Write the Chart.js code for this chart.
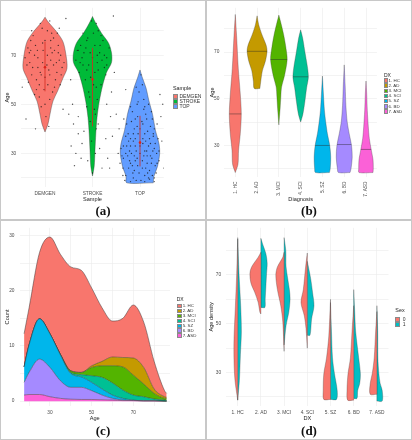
<!DOCTYPE html>
<html>
<head>
<meta charset="utf-8">
<title>Age distributions by sample, diagnosis and sex</title>
<script src="https://cdn.jsdelivr.net/npm/chart.js@4.4.1/dist/chart.umd.min.js"></script>
<style>
  html, body { margin: 0; padding: 0; background: #fff; }
  #figure { position: relative; width: 412px; height: 440px; overflow: hidden; font-family: "Liberation Sans", Arial, sans-serif; }
  .panel { position: absolute; width: 206px; height: 220px; box-shadow: inset 0 0 0 1px #c8c8c8; }
  .panel canvas { position: absolute; left: 0; top: 0; }
  .tag { position: absolute; left: 0; top: 204px; width: 206px; text-align: center; font: bold 13px/14px "Liberation Serif", "Times New Roman", serif; color: #111; }
  .legend { position: absolute; left: 0; top: 0; color: #333; white-space: nowrap; }
  .legend div { position: absolute; }
  .legend .key { box-sizing: border-box; border: 0.5px solid #8a8a8a; }
</style>
</head>
<body>
<div id="figure">
  <div class="panel" id="panelA" style="left:0;top:0"><canvas id="chartA" width="206" height="206"></canvas><div class="tag">(a)</div></div>
  <div class="panel" id="panelB" style="left:206px;top:0"><canvas id="chartB" width="206" height="206"></canvas><div class="tag">(b)</div></div>
  <div class="panel" id="panelC" style="left:0;top:220px"><canvas id="chartC" width="206" height="206"></canvas><div class="tag">(c)</div></div>
  <div class="panel" id="panelD" style="left:206px;top:220px"><canvas id="chartD" width="206" height="206"></canvas><div class="tag">(d)</div></div>
</div>
<script>
// ---------- (a) age by sample ----------
const sampleNames = ['DEMGEN', 'STROKE', 'TOP'];
const sampleColors = ['#F8766D', '#00BA38', '#619CFF'];
const demgenAges = [38.7, 42, 46, 51.3, 55.3, 60.7, 64.7, 70, 75.5, 79.5, 83.5, 85.5];
const demgenDensity = [0, 3, 5, 8, 12.5, 18, 22, 21, 18, 11.7, 3.3, 0];
const strokeAges = [20.8, 24.7, 31.3, 38, 44.5, 51, 57.5, 63, 67, 71, 75, 79, 83, 85.8];
const strokeDensity = [0, 1.7, 2.5, 3.3, 4.5, 6.7, 10, 14, 19, 19, 16, 9, 3.3, 0];
const topAges = [18, 20.7, 24.7, 30, 34, 39.3, 46, 51.3, 56.7, 60.7, 64];
const topDensity = [13.3, 14, 17.5, 19.7, 19, 15.5, 12.5, 9, 6, 2.5, 0];
const sampleMean = [65.1, 60.2, 34.4];
const sampleLow = [55.3, 41, 24.7];
const sampleHigh = [75.5, 73, 45.3];
// individual subjects: [offset from group centre, age]
const demgenJitter = [[-0.30,72],[0.12,68],[-0.05,75],[0.25,63],[-0.18,60],[0.33,70],[-0.38,66],[0.05,80],[-0.10,83],[0.18,77],
  [-0.25,78],[0.28,74],[-0.33,71],[0.08,64],[-0.12,58],[0.20,57],[-0.22,54],[0.10,52],[-0.08,49],[0.02,45],
  [-0.40,44],[0.38,48],[0.30,81],[-0.15,69],[0.15,71],[-0.28,62],[0.36,65],[0.00,61],[-0.05,67],[0.22,60],
  [-0.35,59],[0.12,73],[-0.20,74],[0.26,79],[-0.02,56],[0.05,70],[-0.42,69],[0.40,67],[0.44,85],[-0.20,40],
  [0.08,41],[-0.15,65],[0.18,66],[-0.30,76],[0.32,58],
  [0.10,62],[-0.10,63],[0.30,68],[-0.32,67],[0.20,72],[-0.22,70],[0.00,76],[0.14,79],[-0.06,81],[0.24,67],
  [-0.16,72],[0.06,58],[-0.08,62],[0.34,62],[-0.26,65],[0.16,55],[-0.12,53],[0.04,66],[-0.36,73],[0.12,76],
  [-0.04,72],[0.28,71],[-0.18,56],[0.00,50],[0.50,46],[-0.48,57],[0.10,84],[-0.28,80]];
const strokeJitter = [[-0.30,72],[0.25,70],[-0.10,77],[0.12,80],[-0.20,66],[0.30,66],[0.05,63],[-0.15,60],[0.18,58],[-0.08,55],
  [0.10,52],[-0.12,49],[0.06,46],[-0.05,43],[0.08,40],[-0.30,38],[0.28,36],[-0.22,34],[0.15,32],[-0.35,30],
  [0.32,28],[-0.10,27],[0.20,24],[-0.38,25],[0.00,69],[-0.35,68],[0.35,73],[0.22,76],[-0.25,74],[0.08,83],
  [-0.02,84],[0.28,62],[-0.28,63],[0.40,55],[-0.42,50],[0.38,45],[-0.40,42],[0.15,71],[-0.05,71],[0.10,67],
  [-0.12,64],[0.02,58],[0.44,86],[-0.30,45],[0.30,50],
  [0.05,74],[-0.18,71],[0.20,68],[-0.08,66],[0.12,64],[-0.22,69],[0.30,69],[-0.32,72],[0.16,74],[-0.12,76],
  [0.02,79],[-0.04,61],[0.08,57],[-0.06,53],[0.04,48],[-0.02,35],[0.06,30],[-0.45,33],[0.42,37],[0.46,63],
  [-0.46,60],[0.12,42],[-0.18,39],[0.25,65],[-0.26,67],[0.10,70],[-0.14,73],[0.00,22],[-0.24,28],[0.36,24],
  [0.18,78],[-0.20,79]];
const topJitter = [[-0.30,30],[0.25,28],[-0.10,33],[0.12,35],[-0.20,26],[0.30,32],[0.05,24],[-0.15,22],[0.18,20],[-0.08,19],
  [0.10,38],[-0.12,40],[0.06,42],[-0.05,45],[0.08,48],[-0.20,36],[0.28,37],[-0.22,31],[0.15,29],[-0.35,28],
  [0.32,25],[-0.10,27],[0.20,23],[-0.30,21],[0.00,30],[-0.35,33],[0.35,30],[0.22,34],[-0.25,38],[0.08,52],
  [-0.02,55],[0.14,44],[-0.16,47],[0.30,40],[-0.28,42],[0.38,36],[-0.40,32],[0.15,26],[-0.05,25],[0.10,31],
  [-0.12,29],[0.02,19],[0.05,58],[-0.06,50],[0.26,44],[-0.24,24],[0.34,22],[-0.32,19],[0.20,19.5],[-0.10,36],
  [0.00,40],[0.22,41],[-0.18,43],[0.12,46],[0.40,27],[-0.42,26],[0.44,45],[-0.44,40],[0.42,54],[-0.30,56],
  [0.10,21],[-0.20,33],[0.27,31],[-0.06,28],[0.18,33],[-0.14,35],[0.06,36],[-0.26,29],[0.36,26],[-0.36,24],
  [0.00,33],[0.05,27],[-0.08,31],[0.14,31],[-0.22,27],[0.24,26],[-0.28,33],[0.32,34],[-0.18,30],[0.08,29],
  [-0.02,22],[0.12,24],[-0.14,20],[0.26,21],[-0.36,21],[0.30,20],[-0.04,38],[0.16,39],[-0.14,38],[0.20,36],
  [-0.30,37],[0.04,43],[-0.10,44],[0.10,49],[-0.04,51],[0.02,62],[-0.08,57],[0.18,50],[-0.20,49],[0.24,47],
  [-0.34,44],[0.36,42],[0.06,34],[-0.16,25],[0.22,29],[-0.38,29],[0.40,31],[-0.24,35],[0.28,38],[-0.06,41],
  [0.10,18.5],[-0.20,18.5],[0.30,18.5],[-0.12,23],[0.16,22],[0.46,35],[-0.46,30],[0.48,50],[-0.50,46],[0.50,24]];

// ---------- (b) age by diagnosis ----------
const dxNames = ['1. HC', '2. AD', '3. MCI', '4. SCI', '5. SZ', '6. BD', '7. ASD'];
const dxColors = ['#F8766D', '#C49A00', '#53B400', '#00C094', '#00B6EB', '#A58AFF', '#FB61D7'];
const hcAges = [18.4, 22, 28, 35, 43.5, 52, 63, 77, 86.1];
const hcDensity = [0, 0.27, 0.33, 0.5, 0.6, 0.5, 0.3, 0.13, 0];
const adAges = [54.4, 57.5, 62, 66, 70.3, 73, 77.3, 81.6, 85.5];
const adDensity = [0.28, 0.37, 0.53, 0.83, 1.0, 0.9, 0.5, 0.17, 0];
const mciAges = [38.8, 46, 51, 55, 60, 66.7, 72, 77, 82, 85.8];
const mciDensity = [0, 0.13, 0.2, 0.27, 0.57, 0.83, 0.7, 0.5, 0.23, 0];
const sciAges = [40, 43.5, 49, 54.7, 59, 63, 70, 76, 79.5];
const sciDensity = [0, 0.23, 0.43, 0.6, 0.77, 0.7, 0.43, 0.2, 0];
const szAges = [18.4, 20, 25, 30, 35, 40, 45, 52, 59.7];
const szDensity = [0.7, 0.78, 0.83, 0.73, 0.5, 0.33, 0.2, 0.1, 0];
const bdAges = [18.4, 20, 25, 30, 35, 40, 47, 55, 64.5];
const bdDensity = [0.58, 0.68, 0.8, 0.73, 0.5, 0.3, 0.17, 0.1, 0];
const asdAges = [18.4, 20, 24, 28, 33, 38, 45, 52, 57.6];
const asdDensity = [0.7, 0.73, 0.7, 0.53, 0.33, 0.23, 0.13, 0.07, 0];
const dxMedian = [43.5, 70.3, 66.8, 59.4, 30, 30.4, 28.3];

// ---------- (c) stacked count density by age ----------
const countAges = [17.6, 20, 25, 30, 35, 40, 45, 50, 55, 60, 65, 70, 75, 80, 85, 86];
const countHC  = [6.0, 6.7, 12.0, 17.5, 18.1, 18.8, 18.5, 14.1, 9.7, 6.5, 7.1, 9.6, 8.2, 5.0, 1.1, 0.7];
const countAD  = [0, 0, 0, 0, 0, 0, 0, 0.3, 0.8, 1.6, 1.7, 3.1, 3.0, 0.8, 0.3, 0.25];
const countMCI = [0, 0, 0, 0, 0.05, 0.3, 0.4, 1.5, 2.1, 3.1, 4.2, 3.6, 2.3, 1.0, 0.3, 0.3];
const countSCI = [0, 0, 0, 0, 0.05, 0.2, 0.4, 1.2, 2.1, 2.2, 1.5, 0.9, 0.75, 0.35, 0.2, 0.15];
const countSZ  = [2.8, 5.0, 7.3, 6.1, 4.7, 2.5, 1.9, 1.5, 1.1, 0.6, 0.3, 0.1, 0, 0, 0, 0];
const countBD  = [2.3, 4.0, 6.4, 5.3, 3.2, 2.15, 2.2, 1.6, 0.85, 0.3, 0.1, 0, 0, 0, 0, 0];
const countASD = [1.1, 1.2, 1.2, 0.8, 0.5, 0.35, 0.3, 0.3, 0.25, 0.2, 0.1, 0.1, 0.05, 0.05, 0, 0];

// ---------- (d) split violins by sex ----------
const sexNames = ['0', '1'];
const sexColors = ['#F8766D', '#00BFC4'];
const sex0Ages = [[18.7, 26.7, 34.7, 44, 57.3, 70.7, 84.7], [54, 54.7, 58.7, 62.7, 66.7, 70.7, 73.3, 77.3, 79.3],
  [38.7, 50.7, 57.3, 64, 70, 73.3, 77.3, 79.3], [40, 48, 53.3, 58.7, 64, 73.3, 79],
  [19, 22.7, 29.5, 36, 45, 60], [18.7, 22.7, 29.5, 36, 46.7, 57.4], [21.1, 25.5, 29.5, 36, 46.7, 55]];
const sex0Density = [[0, 2.7, 3.7, 3.7, 2.3, 1, 0], [0, 1, 2.7, 6, 10, 11, 9.3, 2.7, 0],
  [0, 1.3, 3.3, 6.7, 8.3, 6.7, 1.3, 0], [0, 1.3, 3, 6.3, 4, 1.7, 0],
  [6.7, 7.3, 6.7, 4, 1.7, 0], [6, 6.7, 5.7, 3.3, 1.7, 0], [6.7, 6.7, 4.7, 2.7, 1.3, 0]];
const sex1Ages = [[18.7, 26.7, 37.3, 46.7, 57.3, 70.7, 85.3], [56.7, 60, 65.3, 70.7, 74.7, 78.7, 82.7, 85],
  [41.3, 49.3, 54.7, 60, 64, 73.3, 80, 85.3], [45.3, 52, 57.3, 62.7, 68.7, 75.6],
  [19, 22.7, 29.5, 36, 46.7, 58.7], [19.4, 22.7, 25.5, 29.5, 36, 46.7, 55, 64], [18.3, 22.7, 25.5, 29.5, 36, 46.7, 57.4]];
const sex1Density = [[0, 1.7, 2.7, 3.7, 3, 1.3, 0], [4, 4.3, 5, 5.7, 6.3, 5, 1.7, 0],
  [0, 2, 4.7, 6, 5.3, 2, 1.7, 0], [2.7, 4.3, 6.7, 5.3, 3.3, 0],
  [6, 6.7, 4, 2, 1, 0], [3.3, 4, 6, 6.7, 5, 2, 1, 0], [5.3, 5.3, 3.3, 2, 1, 0.8, 0]];

// axis ticks
const ageTicks = [20, 30, 40, 50, 60, 70, 80];
const ageLabels = [30, 50, 70];
const countTicks = [0, 5, 10, 15, 20, 25, 30];
const countLabels = [0, 10, 20, 30];
const ageLabelsC = [30, 50, 70];

const FONT = '"Liberation Sans", Arial, sans-serif';
const TICK_FONT = { size: 4.8, family: FONT };
const TITLE_FONT = { size: 5.6, family: FONT };
const GRID = '#ebebeb';
const OUTLINE = 'rgba(55,55,55,0.75)';

Chart.defaults.animation = false;
Chart.defaults.responsive = false;
Chart.defaults.plugins.legend.display = false;
Chart.defaults.plugins.tooltip.enabled = false;
Chart.defaults.elements.point.radius = 0;

function yAxis(min, max, ticks, labelled, width, title, titlePad) {
  return {
    type: 'linear', min, max, bounds: 'data',
    afterFit: s => { s.width = width; },
    afterBuildTicks: s => { s.ticks = ticks.map(v => ({ value: v })); },
    ticks: { callback: v => labelled.includes(v) ? String(v) : '', font: TICK_FONT, color: '#4d4d4d', padding: 5 },
    grid: { color: GRID, lineWidth: 0.6, drawTicks: false },
    border: { display: false },
    title: { display: true, text: title, font: TITLE_FONT, color: '#222', padding: { top: titlePad, bottom: 0 } }
  };
}

function xAxis(min, max, ticks, label, height, title, tickPad, titlePad, rotation) {
  return {
    type: 'linear', min, max, bounds: 'data',
    afterFit: s => { s.height = height; },
    afterBuildTicks: s => { s.ticks = ticks.map(v => ({ value: v })); },
    ticks: { callback: label, font: TICK_FONT, color: '#4d4d4d', padding: tickPad, autoSkip: false,
             minRotation: rotation, maxRotation: rotation },
    grid: { color: GRID, lineWidth: 0.6, drawTicks: false },
    border: { display: false },
    title: { display: true, text: title, font: TITLE_FONT, color: '#222', padding: { top: 0, bottom: titlePad } }
  };
}

// closed outline of a violin around a category centre
function violin(center, ages, density, k) {
  const right = ages.map((a, i) => ({ x: center + density[i] * k, y: a }));
  const left = ages.map((a, i) => ({ x: center - density[i] * k, y: a })).reverse();
  return [...right, ...left, right[0]];
}

// one half of a split violin (side -1 left, +1 right)
function halfViolin(center, ages, density, k, side) {
  const edge = ages.map((a, i) => ({ x: center + side * density[i] * k, y: a }));
  const top = ages[ages.length - 1];
  return [{ x: center, y: ages[0] }, ...edge, { x: center, y: top }, { x: center, y: ages[0] }];
}

function widthAt(ages, density, age) {
  for (let i = 1; i < ages.length; i++) {
    if (age <= ages[i]) {
      const t = (age - ages[i - 1]) / (ages[i] - ages[i - 1]);
      return density[i - 1] + t * (density[i] - density[i - 1]);
    }
  }
  return 0;
}

function buildLegend(panelId, title, names, colors, cfg) {
  const box = document.createElement('div');
  box.className = 'legend';
  const t = document.createElement('div');
  t.textContent = title;
  t.style.cssText = `left:${cfg.left}px;top:${cfg.titleY - cfg.titleFont * 0.6}px;font-size:${cfg.titleFont}px;line-height:${cfg.titleFont * 1.2}px;color:#222`;
  box.appendChild(t);
  names.forEach((n, i) => {
    const y = cfg.firstY + i * cfg.step;
    const key = document.createElement('div');
    key.className = 'key';
    key.style.cssText = `left:${cfg.left}px;top:${y - cfg.keyH / 2}px;width:${cfg.keyW}px;height:${cfg.keyH}px;background:${colors[i]}`;
    const lab = document.createElement('div');
    lab.textContent = n;
    lab.style.cssText = `left:${cfg.labelX}px;top:${y - cfg.font * 0.6}px;font-size:${cfg.font}px;line-height:${cfg.font * 1.2}px`;
    box.appendChild(key);
    box.appendChild(lab);
  });
  document.getElementById(panelId).appendChild(box);
}

function createSampleChart() {
  const ages = [demgenAges, strokeAges, topAges];
  const dens = [demgenDensity, strokeDensity, topDensity];
  const jitter = [demgenJitter, strokeJitter, topJitter];
  const k = 1 / 47.5;
  const datasets = [];
  sampleNames.forEach((name, i) => {
    const c = i + 1;
    datasets.push({ data: [{ x: c, y: sampleLow[i] }, { x: c, y: sampleHigh[i] }], borderColor: '#d4281f', borderWidth: 0.8, order: 1 });
    datasets.push({ data: [{ x: c, y: sampleMean[i] }], showLine: false, pointRadius: 1.3, pointBackgroundColor: '#e0221a', pointBorderWidth: 0, order: 1 });
    datasets.push({ data: jitter[i].map(p => ({ x: c + p[0], y: p[1] })), showLine: false, pointRadius: 0.7,
                    pointBackgroundColor: 'rgba(20,20,20,0.75)', pointBorderWidth: 0, order: 2 });
    datasets.push({ label: name, data: violin(c, ages[i], dens[i], k), backgroundColor: sampleColors[i], borderColor: OUTLINE,
                    borderWidth: 0.5, fill: 'shape', tension: 0.3, order: 3 });
  });
  new Chart(document.getElementById('chartA'), {
    type: 'line',
    data: { datasets },
    options: {
      layout: { padding: { left: 0, right: 42.25, top: 4.5, bottom: 0 } },
      scales: {
        x: xAxis(0.5, 3.5, [1, 2, 3], v => sampleNames[v - 1] || '', 19, 'Sample', 3.4, 3.4, 0),
        y: yAxis(16.3, 89.3, ageTicks, ageLabels, 21.25, 'Age', 4.2)
      }
    }
  });
  buildLegend('panelA', 'Sample', sampleNames, sampleColors,
    { left: 173, titleY: 88, titleFont: 5.4, firstY: 96.3, step: 5, keyW: 5, keyH: 4.6, labelX: 179.5, font: 5 });
}

function createDiagnosisChart() {
  const ages = [hcAges, adAges, mciAges, sciAges, szAges, bdAges, asdAges];
  const dens = [hcDensity, adDensity, mciDensity, sciDensity, szDensity, bdDensity, asdDensity];
  const k = 0.459;
  const datasets = [];
  dxNames.forEach((name, i) => {
    const c = i + 1;
    const w = widthAt(ages[i], dens[i], dxMedian[i]) * k;
    datasets.push({ data: [{ x: c - w, y: dxMedian[i] }, { x: c + w, y: dxMedian[i] }], borderColor: 'rgba(40,40,40,0.85)', borderWidth: 0.5, order: 1 });
    datasets.push({ label: name, data: violin(c, ages[i], dens[i], k), backgroundColor: dxColors[i], borderColor: OUTLINE,
                    borderWidth: 0.4, fill: 'shape', tension: 0.3, order: 2 });
  });
  new Chart(document.getElementById('chartB'), {
    type: 'line',
    data: { datasets },
    options: {
      layout: { padding: { left: 0, right: 35.1, top: 6, bottom: 0 } },
      scales: {
        x: xAxis(0.5, 7.5, [1, 2, 3, 4, 5, 6, 7], v => dxNames[v - 1] || '', 29, 'Diagnosis', 4.5, 3.3, 90),
        y: yAxis(16.5, 88.9, ageTicks, ageLabels, 18.4, 'Age', 2.7)
      }
    }
  });
  buildLegend('panelB', 'DX', dxNames, dxColors,
    { left: 178, titleY: 75, titleFont: 5, firstY: 80.7, step: 5.1, keyW: 4.3, keyH: 4.7, labelX: 182.6, font: 4.4 });
}

function createCountChart() {
  const layers = [countASD, countBD, countSZ, countSCI, countMCI, countAD, countHC];
  const colors = [...dxColors].reverse();
  const datasets = layers.map((vals, i) => ({
    label: dxNames[6 - i],
    data: countAges.map((a, j) => ({ x: a, y: vals[j] })),
    backgroundColor: colors[i],
    borderColor: 'rgba(50,50,50,0.8)',
    borderWidth: 0.6,
    fill: i === 0 ? 'origin' : '-1',
    cubicInterpolationMode: 'monotone'
  }));
  new Chart(document.getElementById('chartC'), {
    type: 'line',
    data: { datasets },
    options: {
      layout: { padding: { left: 0, right: 36, top: 3, bottom: 0 } },
      scales: {
        x: xAxis(15.4, 87.6, [20, 30, 40, 50, 60, 70, 80], v => ageLabelsC.includes(v) ? String(v) : '', 20, 'Age', 3.8, 4.4, 0),
        y: Object.assign(yAxis(-0.88, 31.36, countTicks, countLabels, 19.5, 'Count', 3.9), { stacked: true })
      }
    }
  });
  buildLegend('panelC', 'DX', dxNames, dxColors,
    { left: 176.7, titleY: 79, titleFont: 5, firstY: 86, step: 4.95, keyW: 5, keyH: 4.6, labelX: 182.7, font: 4.4 });
}

function createSexChart() {
  const k = 1 / 23.2;
  const datasets = [];
  dxNames.forEach((name, i) => {
    const c = i + 1;
    datasets.push({ data: halfViolin(c, sex0Ages[i], sex0Density[i], k, -1), backgroundColor: sexColors[0],
                    borderColor: OUTLINE, borderWidth: 0.4, fill: 'shape', tension: 0.3 });
    datasets.push({ data: halfViolin(c, sex1Ages[i], sex1Density[i], k, 1), backgroundColor: sexColors[1],
                    borderColor: OUTLINE, borderWidth: 0.4, fill: 'shape', tension: 0.3 });
  });
  new Chart(document.getElementById('chartD'), {
    type: 'line',
    data: { datasets },
    options: {
      layout: { padding: { left: 0, right: 23.5, top: 3.5, bottom: 0 } },
      scales: {
        x: xAxis(0.5, 7.5, [1, 2, 3, 4, 5, 6, 7], v => dxNames[v - 1] || '', 20, 'DX', 3.4, 4.4, 0),
        y: yAxis(16.3, 89.3, ageTicks, ageLabels, 20.1, 'Age density', 2)
      }
    }
  });
  buildLegend('panelD', 'Sex', sexNames, sexColors,
    { left: 189.3, titleY: 90.7, titleFont: 5.4, firstY: 99, step: 5.3, keyW: 4.6, keyH: 5, labelX: 196.7, font: 5 });
}

createSampleChart();
createDiagnosisChart();
createCountChart();
createSexChart();
</script>
</body>
</html>
